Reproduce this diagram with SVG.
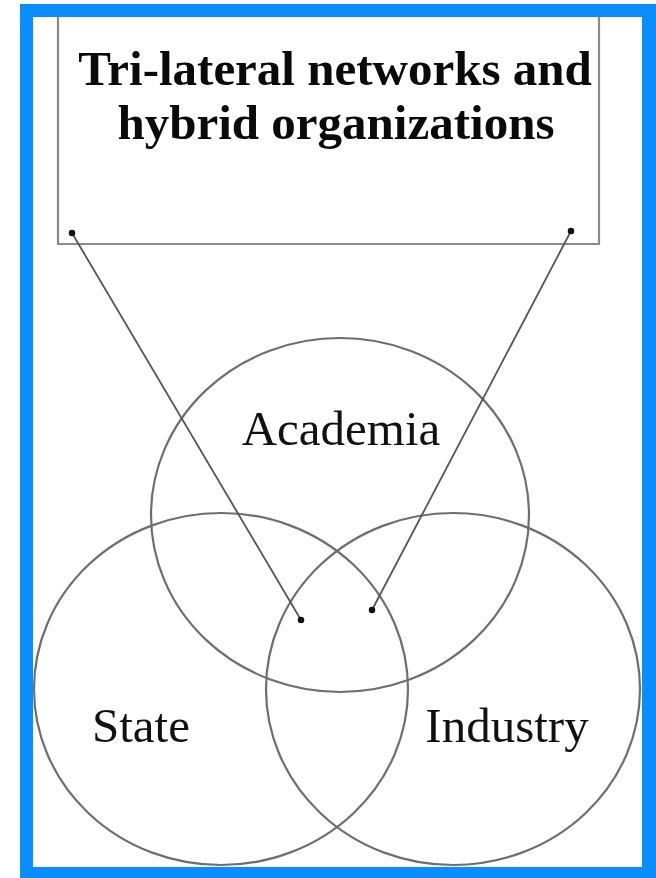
<svg xmlns="http://www.w3.org/2000/svg" width="656" height="878" viewBox="0 0 656 878">
<style>
.ring{fill:none;stroke:#6e6e6e;stroke-width:2.2}
.lbl{font-family:"Liberation Serif","Times New Roman",serif;font-size:49px;fill:#111;text-anchor:middle}
.title{font-family:"Liberation Serif","Times New Roman",serif;font-size:49px;font-weight:bold;fill:#0a0a0a;text-anchor:middle}
.conn{stroke:#555;stroke-width:1.8;fill:none;marker-start:url(#dot);marker-end:url(#dot)}
</style>
<defs>
<marker id="dot" viewBox="0 0 10 10" refX="5" refY="5" markerWidth="4" markerHeight="4" markerUnits="strokeWidth">
<circle cx="5" cy="5" r="4.5" fill="#111"/>
</marker>
</defs>
<rect x="20" y="4" width="636" height="874" fill="#0A8EFF"/>
<rect x="33" y="17" width="609" height="850" fill="#ffffff"/>
<g id="box">
<path d="M58,17 V244 H599 V17" fill="none" stroke="#8a8a8a" stroke-width="2.2"/>
<text class="title" x="335" y="85">Tri-lateral networks and</text>
<text class="title" x="336" y="139">hybrid organizations</text>
</g>
<g id="academia">
<ellipse class="ring" cx="340" cy="515" rx="189" ry="177"/>
<text class="lbl" x="341" y="445">Academia</text>
</g>
<g id="state">
<ellipse class="ring" cx="221" cy="689" rx="187" ry="176"/>
<text class="lbl" x="141" y="742">State</text>
</g>
<g id="industry">
<ellipse class="ring" cx="453" cy="689" rx="187" ry="176"/>
<text class="lbl" x="507" y="742">Industry</text>
</g>
<g id="connectors">
<line class="conn" x1="72" y1="233" x2="301" y2="620"/>
<line class="conn" x1="571" y1="231" x2="372" y2="610"/>
</g>
</svg>
